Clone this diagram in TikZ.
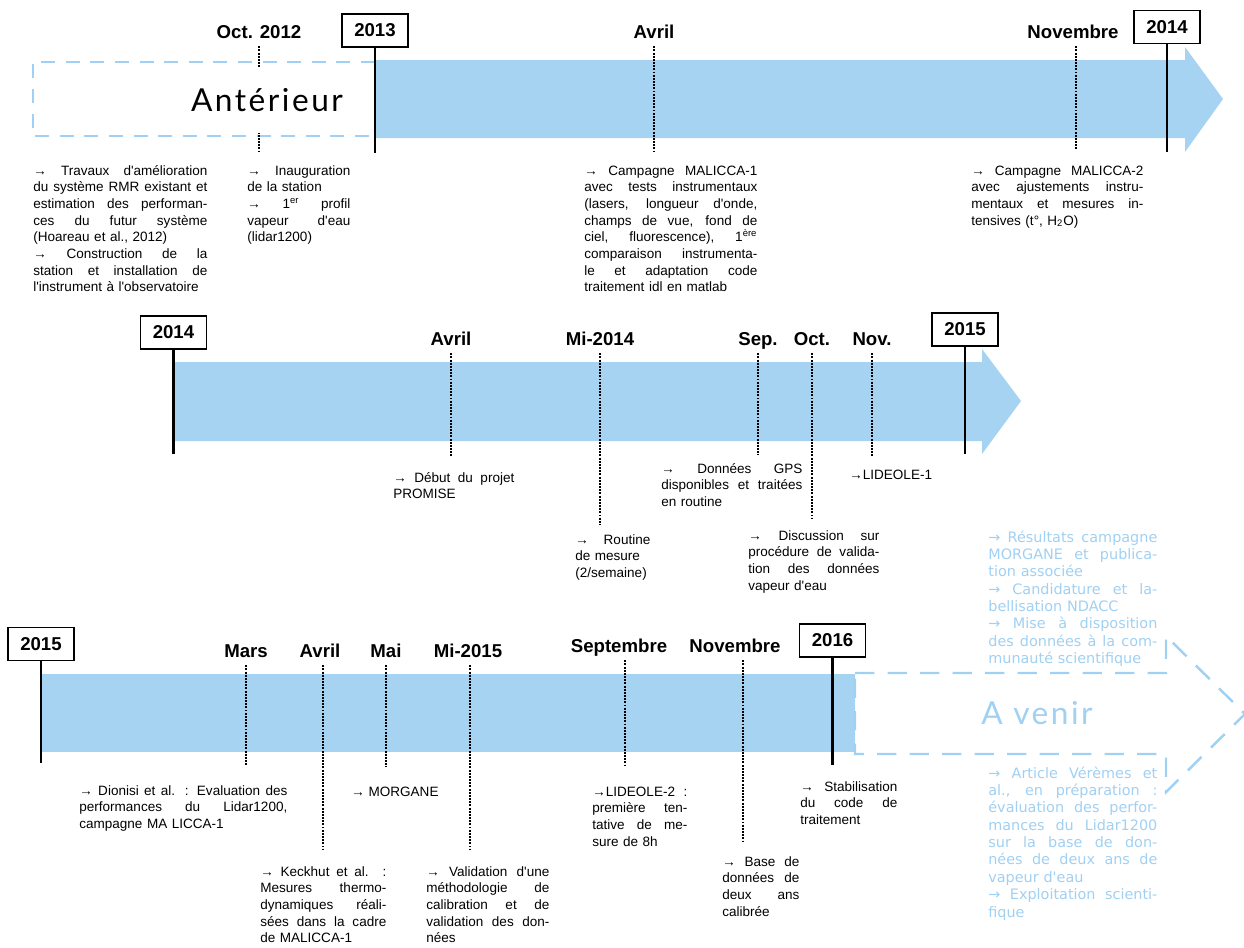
\documentclass[tikz,border=0pt]{standalone}
\usepackage{fontspec}
\setmainfont{Liberation Sans}[Ligatures=TeXOff]
\newfontfamily\handfont{Lato}[LetterSpace=8]
\newfontfamily\lightfont{DejaVu Sans}[Ligatures=TeXOff]
\definecolor{barblue}{RGB}{166,211,242}
\definecolor{softblue}{RGB}{160,208,242}
\newcommand{\jl}[1]{\makebox[\linewidth][s]{\spaceskip=0pt \xspaceskip=0pt #1}}

\begin{document}
\begin{tikzpicture}[x=0.02cm, y=-0.02cm]
\newlength{\px}
\setlength{\px}{0.02cm}

\tikzset{
  year_b/.style = {draw=black, line width=0.6pt, fill=white, minimum width=66\px,
    minimum height=33\px, inner sep=0pt, font=\fontsize{10.6}{12}\selectfont\bfseries},
  date_l/.style = {anchor=base, inner xsep=1pt, inner ysep=4.5pt, text depth=0pt,
    font=\fontsize{10.6}{12}\selectfont\bfseries},
  year_l/.style = {line width=1.4pt},
  tick_l/.style = {line width=1.1pt, dash pattern=on 1.1pt off 0.7pt},
  txt_b/.style = {anchor=base west, inner sep=0pt, align=left,
    font=\fontsize{7.7}{9.5}\selectfont},
  fut_b/.style = {txt_b, text=softblue, text width=169\px,
    font=\lightfont\fontsize{8.2}{9.9}\selectfont},
  hand_t/.style = {font=\handfont\fontsize{18}{20}\selectfont}
}
\useasboundingbox (0,0) rectangle (1244,947);

% 2013 - 2014
\draw[softblue, line width=1.1pt, dash pattern=on 8pt off 6pt]
  (375,62) -- (33,62) -- (33,136) -- (375,136);
\fill[barblue] (375,60) -- (1185,60) -- (1185,47) -- (1223,99) -- (1185,152)
  -- (1185,138) -- (375,138) -- cycle;
\node[date_l] (oct12) at (259,38) {Oct. 2012};
\draw[tick_l] (oct12.south) -- ++(0,105);
\node[hand_t, fill=white, minimum height=65\px] (ant) at (267,100) {Antérieur};
\node[date_l] (apr13) at (654,38) {Avril};
\draw[tick_l] (apr13.south) -- ++(0,105);
\node[date_l] (nov13) at (1073,38) {Novembre};
\draw[tick_l] ([xshift=3\px]nov13.south) -- ++(0,104);
\node[year_b] (y13) at (375,30.5) {2013};
\draw[year_l] (y13.south) -- ++(0,105);
\node[year_b] (y14a) at (1167,27) {2014};
\draw[year_l] (y14a.south) -- ++(0,108);

\node[txt_b, text width=174\px] (t_rmr) at (33,175) {\jl{→ Travaux d'amélioration}\\
  \jl{du système RMR existant et}\\ \jl{estimation des performan-}\\
  \jl{ces du futur système}\\ (Hoareau et al., 2012)\\ \jl{→ Construction de la}\\
  \jl{station et installation de}\\ l'instrument à l'observatoire};
\node[txt_b, text width=103\px] (t_inau) at (247,175) {\jl{→ Inauguration}\\
  de la station\\ \jl{→ 1\textsuperscript{er} profil}\\ \jl{vapeur d'eau}\\ (lidar1200)};
\node[txt_b, text width=173\px] (t_mal1) at (584,175) {\jl{→ Campagne MALICCA-1}\\
  \jl{avec tests instrumentaux}\\ \jl{(lasers, longueur d'onde,}\\
  \jl{champs de vue, fond de}\\ \jl{ciel, fluorescence), 1\textsuperscript{ère}}\\
  \jl{comparaison instrumenta-}\\ \jl{le et adaptation code}\\ traitement idl en matlab};
\node[txt_b, text width=172\px] (t_mal2) at (971,175) {\jl{→ Campagne MALICCA-2}\\
  \jl{avec ajustements instru-}\\ \jl{mentaux et mesures in-}\\
  tensives (t°, H\textsubscript{2}O)};

% 2014 - 2015
\fill[barblue] (172,362) -- (982,362) -- (982,349) -- (1021,401) -- (982,454)
  -- (982,441) -- (172,441) -- cycle;
\node[date_l] (apr14) at (451,345) {Avril};
\draw[tick_l] (apr14.south) -- ++(0,104);
\node[date_l] (mid14) at (600,345) {Mi-2014};
\draw[tick_l] (mid14.south) -- ++(0,172);
\node[date_l] (sep14) at (758,345) {Sep.};
\draw[tick_l] (sep14.south) -- ++(0,102);
\node[date_l] (oct14) at (812,345) {Oct.};
\draw[tick_l] (oct14.south) -- ++(0,165);
\node[date_l] (nov14) at (872,345) {Nov.};
\draw[tick_l] (nov14.south) -- ++(0,103);
\node[year_b] (y14b) at (173.5,332.5) {2014};
\draw[year_l] (y14b.south) -- ++(0,104);
\node[year_b] (y15a) at (965,329.5) {2015};
\draw[year_l] (y15a.south) -- ++(0,107);

\node[txt_b, text width=121\px] (t_prom) at (393,482) {\jl{→ Début du projet}\\ PROMISE};
\node[txt_b, text width=75\px] (t_rout) at (575,544) {\jl{→ Routine}\\ de mesure\\ (2/semaine)};
\node[txt_b, text width=141\px] (t_gps) at (661,473) {\jl{→ Données GPS}\\
  \jl{disponibles et traitées}\\ en routine};
\node[txt_b, text width=131\px] (t_disc) at (748,540) {\jl{→ Discussion sur}\\
  \jl{procédure de valida-}\\ \jl{tion des données}\\ vapeur d'eau};
\node[txt_b] (t_lid1) at (849,479) {→LIDEOLE-1};

% 2015 - 2016
\fill[barblue] (40,674) rectangle (855,752);
\draw[softblue, line width=1.4pt, dash pattern=on 11pt off 7.5pt]
  (855,673) -- (1166,673) -- (1166,636) -- (1245,714) -- (1166,792) -- (1166,754)
  -- (855,754) -- cycle;
\node[hand_t, text=softblue] (fut) at (1037,713) {A venir};
\node[date_l] (mar15) at (246,657) {Mars};
\draw[tick_l] (mar15.south) -- ++(0,101);
\node[date_l] (apr15) at (320,657) {Avril};
\draw[tick_l] ([xshift=3\px]apr15.south) -- ++(0,185);
\node[date_l] (may15) at (386,657) {Mai};
\draw[tick_l] (may15.south) -- ++(0,102);
\node[date_l] (mid15) at (468,657) {Mi-2015};
\draw[tick_l] ([xshift=2\px]mid15.south) -- ++(0,185);
\node[date_l] (sep15) at (619,652) {Septembre};
\draw[tick_l] ([xshift=6\px]sep15.south) -- ++(0,105);
\node[date_l] (nov15) at (735,652) {Novembre};
\draw[tick_l] ([xshift=8\px]nov15.south) -- ++(0,183);
\node[year_b] (y15b) at (41,644) {2015};
\draw[year_l] (y15b.south) -- ++(0,102);
\node[year_b] (y16) at (832.5,640.5) {2016};
\draw[year_l] (y16.south) -- ++(0,107);

\node[txt_b, text width=208\px] (t_dion) at (79,795) {\jl{→ Dionisi et al. : Evaluation des}\\
  \jl{performances du Lidar1200,}\\ campagne MA LICCA-1};
\node[txt_b, text width=126\px] (t_keck) at (260,876) {\jl{→ Keckhut et al. :}\\
  \jl{Mesures thermo-}\\ \jl{dynamiques réali-}\\ \jl{sées dans la cadre}\\ de MALICCA-1};
\node[txt_b] (t_morg) at (351,796) {→ MORGANE};
\node[txt_b, text width=123\px] (t_valid) at (426,876) {\jl{→ Validation d'une}\\
  \jl{méthodologie de}\\ \jl{calibration et de}\\ \jl{validation des don-}\\ nées};
\node[txt_b, text width=95\px] (t_lid2) at (592,796) {\jl{→LIDEOLE-2 :}\\
  \jl{première ten-}\\ \jl{tative de me-}\\ sure de 8h};
\node[txt_b, text width=77\px] (t_base) at (722,866) {\jl{→ Base de}\\
  \jl{données de}\\ \jl{deux ans}\\ calibrée};
\node[txt_b, text width=97\px] (t_stab) at (800,791) {\jl{→ Stabilisation}\\
  \jl{du code de}\\ traitement};

\node[fut_b] (f_top) at (988,542) {\jl{→ Résultats campagne}\\ \jl{MORGANE et publica-}\\
  tion associée\\ \jl{→ Candidature et la-}\\ bellisation NDACC\\
  \jl{→ Mise à disposition}\\ \jl{des données à la com-}\\ munauté scientifique};
\node[fut_b] (f_bot) at (988,778) {\jl{→ Article Vérèmes et}\\ \jl{al., en préparation :}\\
  \jl{évaluation des perfor-}\\ \jl{mances du Lidar1200}\\ \jl{sur la base de don-}\\
  \jl{nées de deux ans de}\\ vapeur d'eau\\ \jl{→ Exploitation scienti-}\\ fique};

\end{tikzpicture}
\end{document}
